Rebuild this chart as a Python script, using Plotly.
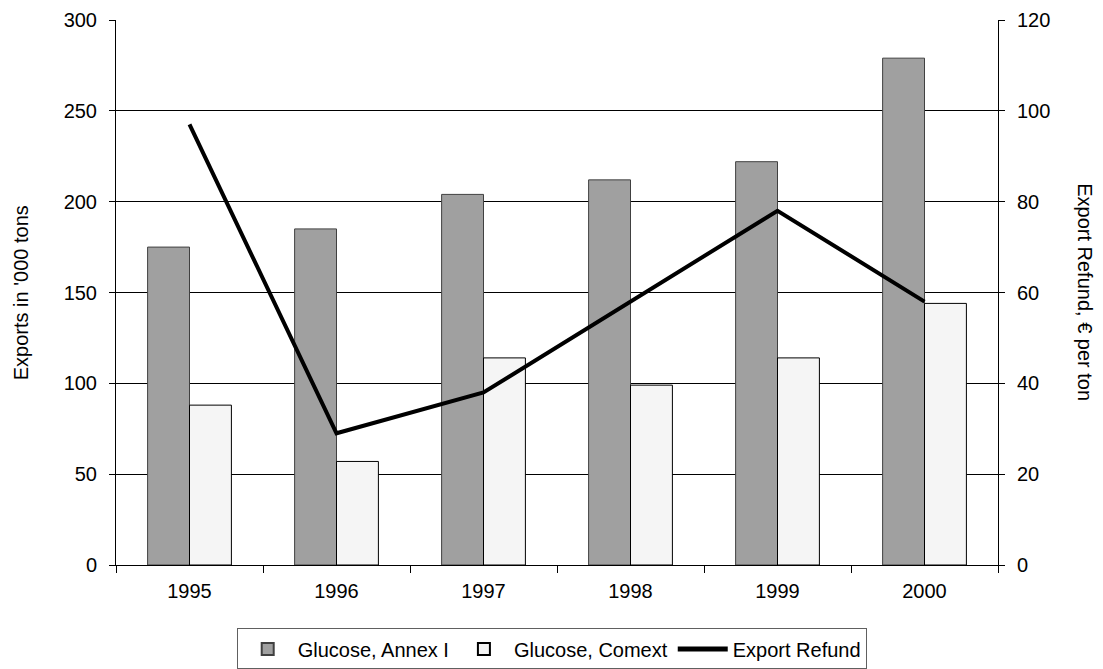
import plotly.graph_objects as go

years = ["1995", "1996", "1997", "1998", "1999", "2000"]
annex = [175, 185, 204, 212, 222, 279]
comext = [88, 57, 114, 99, 114, 144]
refund = [97, 29, 38, 58, 78, 58]

FONT = "Liberation Sans, Arial, sans-serif"
FS = 20

fig = go.Figure()
fig.add_trace(go.Bar(
    x=years, y=annex, name="Glucose, Annex I",
    marker=dict(color="#A0A0A0", line=dict(color="#404040", width=1)),
    offsetgroup="a",
))
fig.add_trace(go.Bar(
    x=years, y=comext, name="Glucose, Comext",
    marker=dict(color="#F5F5F5", line=dict(color="#000000", width=1)),
    offsetgroup="b",
))
fig.add_trace(go.Scatter(
    x=years, y=refund, name="Export Refund", yaxis="y2",
    mode="lines", line=dict(color="black", width=4),
))

fig.update_layout(
    width=1103, height=669,
    margin=dict(l=116, r=105, t=20, b=104, autoexpand=False),
    paper_bgcolor="white", plot_bgcolor="white",
    font=dict(family=FONT, size=FS, color="black"),
    barmode="group", bargap=0.43, bargroupgap=0,
    showlegend=True,
    legend=dict(
        orientation="h", x=0.494, xanchor="center", y=-0.154, yanchor="middle",
        bordercolor="#606060", borderwidth=1, font=dict(size=FS),
        itemsizing="constant", tracegroupgap=0, itemwidth=50,
    ),
    xaxis=dict(
        type="category", tickson="boundaries", ticks="outside", ticklen=7,
        tickcolor="black", showline=True, linecolor="black", linewidth=1,
        showgrid=False, tickfont=dict(size=FS), ticklabelstandoff=8,
    ),
    yaxis=dict(
        range=[0, 300], dtick=50, showgrid=True, gridcolor="black", gridwidth=1,
        showline=True, linecolor="black", ticks="outside", ticklen=6,
        tickcolor="black", zeroline=False, tickfont=dict(size=FS),
        ticklabelstandoff=8,
    ),
    yaxis2=dict(
        range=[0, 120], dtick=20, overlaying="y", side="right", showgrid=False,
        showline=True, linecolor="black", ticks="outside", ticklen=6,
        tickcolor="black", zeroline=False, tickfont=dict(size=FS),
        ticklabelstandoff=8,
    ),
    annotations=[
        dict(text="Exports in '000 tons", xref="paper", yref="paper",
             x=-0.108, y=0.5, showarrow=False, textangle=-90,
             xanchor="center", yanchor="middle", font=dict(size=FS)),
        dict(text="Export Refund, € per ton", xref="paper", yref="paper",
             x=1.099, y=0.5, showarrow=False, textangle=90,
             xanchor="center", yanchor="middle", font=dict(size=FS)),
    ],
)

fig.write_html(
    "out.html",
    config={"displayModeBar": False},
    post_script="document.body.style.margin='0';document.body.style.padding='0';document.body.style.overflow='hidden';",
)
